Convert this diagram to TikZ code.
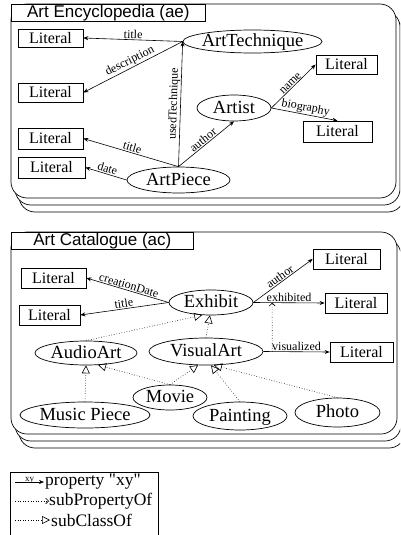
\documentclass[tikz,border=0pt]{standalone}
\usepackage{fontspec}
\setmainfont{Liberation Serif}
\setsansfont{Liberation Sans}
\usetikzlibrary{shapes.geometric,arrows.meta}

\tikzset{
  panel/.style={draw, fill=white, line width=0.7pt, rounded corners=16pt},
  paneltab/.style={draw, fill=white, line width=0.7pt, inner sep=0pt, anchor=north west,
    font=\sffamily\fontsize{17}{17}\selectfont, text height=12.5pt, text depth=4pt, minimum height=17pt},
  lit/.style={draw, fill=white, line width=0.7pt, inner sep=0pt, minimum width=65pt,
    minimum height=20pt, font=\fontsize{16}{16}\selectfont},
  cls/.style={draw, fill=white, ellipse, line width=0.7pt, inner sep=0pt},
  clstext/.style={font=\fontsize{18.5}{18.5}\selectfont, inner sep=0pt, text height=13pt, text depth=3pt},
  prop/.style={line width=0.6pt, -{Stealth[length=5pt,width=4pt]}},
  subprop/.style={dotted, line width=0.6pt, -{Straight Barb[length=3pt,width=6pt]}},
  subcls/.style={dotted, line width=0.6pt, -{Triangle[open,length=8pt,width=8pt]}},
  lbl/.style={font=\fontsize{12}{12}\selectfont, inner sep=0.8pt, midway, sloped, above},
  legtext/.style={font=\fontsize{17.5}{17.5}\selectfont, inner sep=0pt, anchor=west},
}

\begin{document}
\begin{tikzpicture}[x=1pt,y=-1pt]
\useasboundingbox (0,0) rectangle (400,535);
\clip (0,0) rectangle (400,535);

% ---------- Art Encyclopedia panel (stacked) ----------
\draw[panel] (19,18) rectangle (404,212);
\draw[panel] (15,11) rectangle (400,205);
\draw[panel] (11,4) rectangle (396,198);
\node[paneltab, minimum width=194pt] (aetab) at (11,4) {Art Encyclopedia (ae)};

\node[lit, minimum height=18pt] (ae1) at (50.5,38) {Literal};
\node[lit, minimum height=19pt] (ae2) at (50.5,92.5) {Literal};
\node[lit, minimum width=61pt, minimum height=19pt] (ae3) at (346.5,64.5) {Literal};
\node[lit, minimum width=69pt, minimum height=21pt] (ae4) at (337.5,131.5) {Literal};
\node[lit, minimum height=21pt] (ae5) at (50.5,138.5) {Literal};
\node[lit, minimum width=67pt, minimum height=21pt] (ae6) at (51.5,167.5) {Literal};

\node[cls, minimum width=139pt, minimum height=23pt, label={[clstext]center:ArtTechnique}] (tech) at (252.5,41.5) {};
\node[cls, minimum width=74pt, minimum height=26pt, label={[clstext]center:Artist}] (artist) at (234,108) {};
\node[cls, minimum width=103pt, minimum height=26pt, label={[clstext]center:ArtPiece}] (piece) at (178.5,180) {};

\draw[prop] (tech.west) -- (ae1.east) node[lbl] {title};
\draw[prop] (tech.west) -- (ae2.east) node[lbl] {description};
\draw[prop] (piece.north) -- (tech.west) node[lbl] {usedTechnique};
\draw[prop] (piece.north) -- (artist.south) node[lbl] {author};
\draw[prop] (piece.north) -- (ae5.east) node[lbl] {title};
\draw[prop] (piece.west) -- (ae6.east) node[lbl] {date};
\draw[prop] (artist.east) -- (ae3.west) node[lbl] {name};
\draw[prop] (artist.east) -- (ae4.north) node[lbl] {biography};

% ---------- Art Catalogue panel (stacked) ----------
\draw[panel] (19,246) rectangle (405,448);
\draw[panel] (15,239) rectangle (401,441);
\draw[panel] (11,232) rectangle (397,434);
\node[paneltab, minimum width=182pt] (actab) at (11,232) {Art Catalogue (ac)};

\node[lit] (ac1) at (53.5,278) {Literal};
\node[lit, minimum width=61pt] (ac2) at (49.5,315) {Literal};
\node[lit, minimum width=67pt] (ac3) at (346.5,259) {Literal};
\node[lit, minimum width=62pt] (ac4) at (356,303) {Literal};
\node[lit, minimum width=63pt] (ac5) at (361.5,352) {Literal};

\node[cls, minimum width=84pt, minimum height=25pt, label={[clstext]center:Exhibit}] (exhibit) at (211,302.5) {};
\node[cls, minimum width=102pt, minimum height=24pt, label={[clstext]center:AudioArt}] (audio) at (86,353) {};
\node[cls, minimum width=114pt, minimum height=27pt, label={[clstext]center:VisualArt}] (visual) at (206,351.5) {};
\node[cls, minimum width=74pt, minimum height=25pt, label={[clstext]center:Movie}] (movie) at (170,397.5) {};
\node[cls, minimum width=130pt, minimum height=26pt, label={[clstext]center:Music Piece}] (music) at (85,415) {};
\node[cls, minimum width=94pt, minimum height=28pt, label={[clstext]center:Painting}] (painting) at (240,416) {};
\node[cls, minimum width=85pt, minimum height=29pt, label={[clstext]center:Photo}] (photo) at (337.5,412.5) {};

\draw[prop] (exhibit.west) -- (ac1.east) node[lbl] {creationDate};
\draw[prop] (exhibit.west) -- (ac2.east) node[lbl] {title};
\draw[prop] (exhibit.east) -- (ac3.west) node[lbl] {author};
\draw[prop] (exhibit.east) -- (ac4.west) node[lbl] {exhibited} coordinate[pos=0.264] (exhp);
\draw[prop] (visual.east) -- (ac5.west) node[lbl] {visualized} coordinate[pos=0.134] (visp);
\draw[subprop] (visp) -- (exhp);

\draw[subcls] (audio.north) -- (exhibit.235);
\draw[subcls] (visual.north) -- (exhibit.265);
\draw[subcls] (music.north) -- (audio.south);
\draw[subcls] (movie.north) -- (audio.315);
\draw[subcls] (movie.north) -- (visual.240);
\draw[subcls] (painting.north) -- (visual.290);
\draw[subcls] (photo.north) -- (visual.300);

% ---------- Legend ----------
\draw[line width=0.7pt] (10.5,472) rectangle (158,545);
\coordinate (k1a) at (15,482);
\coordinate (k1b) at (44,482);
\coordinate (k2a) at (15,501);
\coordinate (k2b) at (49,501);
\coordinate (k3a) at (15,520);
\coordinate (k3b) at (50,520);
\draw[prop] (k1a) -- (k1b) node[midway, above=-1.5pt, inner sep=0pt, font=\fontsize{9}{9}\selectfont] {xy};
\node[legtext] (k1t) at ([xshift=1pt]k1b) {property \textquotedbl xy\textquotedbl};
\draw[subprop] (k2a) -- (k2b);
\node[legtext] (k2t) at (k2b) {subPropertyOf};
\draw[subcls] (k3a) -- (k3b);
\node[legtext] (k3t) at ([xshift=1pt]k3b) {subClassOf};
\end{tikzpicture}
\end{document}
